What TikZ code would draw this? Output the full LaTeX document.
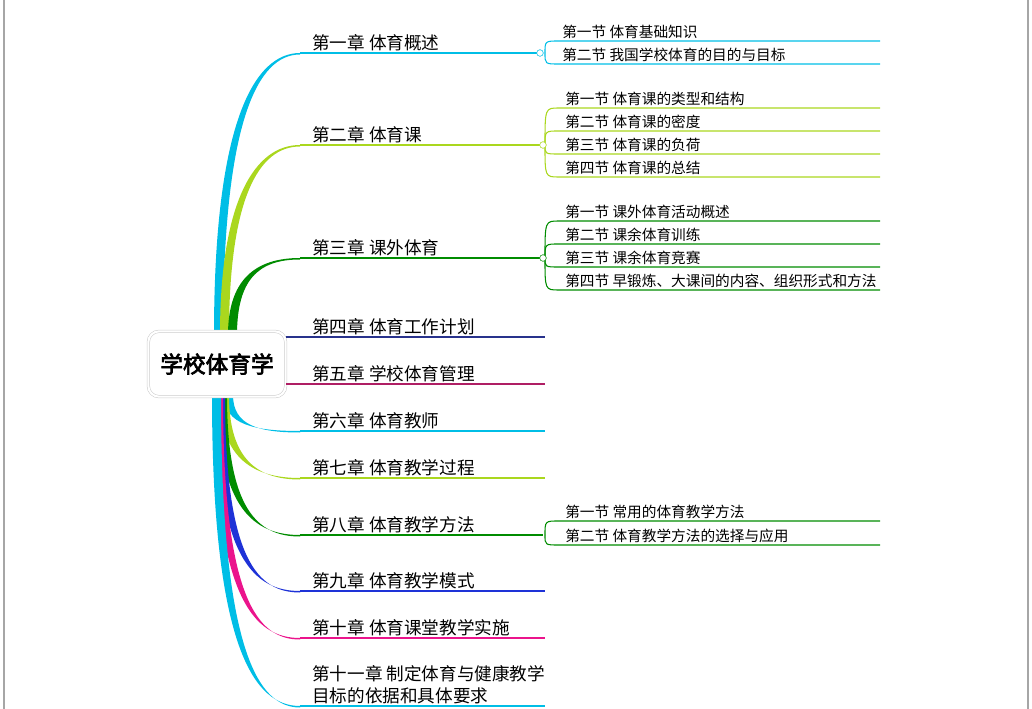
\documentclass[tikz,border=0pt]{standalone}
\usepackage{fontspec}
\setmainfont{Noto Sans CJK SC}
\newfontfamily\rootf{Noto Sans CJK SC}[FakeBold=3]
\begin{document}
\begin{tikzpicture}[x=0.75pt,y=-0.75pt,
  chap/.style={anchor=south west,inner sep=1.5pt,font=\fontsize{13.2}{15}\selectfont},
  sec/.style={anchor=south west,inner sep=1.5pt,font=\fontsize{11}{13}\selectfont},
  jn/.style={circle,draw,fill=white,inner sep=0pt,minimum size=5pt}]
\definecolor{cC}{RGB}{0,190,230}
\definecolor{cY}{RGB}{170,215,30}
\definecolor{cG}{RGB}{0,140,0}
\definecolor{cN}{RGB}{40,50,140}
\definecolor{cM}{RGB}{175,30,100}
\definecolor{cB}{RGB}{30,50,215}
\definecolor{cP}{RGB}{235,20,140}
\useasboundingbox (0,0) rectangle (1032,709);
\draw[gray!70,line width=0.8pt] (4,-2) -- (4,712) (1028,-2) -- (1028,712);
\newcommand\mybr[5]{\fill[#1] (#2-4,#3) .. controls (#2-4,#5) and (255,#4) .. (300,#4)
  -- (300,#4+1.5) .. controls (258,#4+1.5) and (#2+5,#5) .. (#2+5,#3) -- cycle;}
\mybr{cC}{218}{335}{53}{120}
\mybr{cY}{224}{335}{145}{200}
\mybr{cG}{232}{335}{258}{280}
\mybr{cC}{228}{395}{431}{425}
\mybr{cY}{224}{395}{478}{460}
\mybr{cG}{222}{395}{535}{510}
\mybr{cB}{220}{395}{591}{560}
\mybr{cP}{218}{395}{638}{600}
\mybr{cC}{216}{395}{706}{650}
\node[draw=gray!40,double=white,double distance=1.5pt,rounded corners=8pt,fill=white,
  minimum width=103pt,minimum height=49pt,inner sep=0pt] (root) at (217,364) {};
\node at (root) {\rootf\fontsize{17}{20}\selectfont 学校体育学};
\newcommand\mych[5]{\draw[#1,line width=1pt] (300,#2) -- (#3,#2); \node[chap] (#4) at (310,#2) {#5};}
\mych{cC}{53}{540}{c1}{第一章 体育概述}
\mych{cY}{145}{543}{c2}{第二章 体育课}
\mych{cG}{258}{543}{c3}{第三章 课外体育}
\draw[cN,line width=1pt] (root.east|-0,337) -- (545,337); \node[chap] (c4) at (310,337) {第四章 体育工作计划};
\draw[cM,line width=1pt] (root.east|-0,384) -- (545,384); \node[chap] (c5) at (310,384) {第五章 学校体育管理};
\mych{cC}{431}{545}{c6}{第六章 体育教师}
\mych{cY}{478}{545}{c7}{第七章 体育教学过程}
\mych{cG}{535}{543}{c8}{第八章 体育教学方法}
\mych{cB}{591}{545}{c9}{第九章 体育教学模式}
\mych{cP}{638}{545}{c10}{第十章 体育课堂教学实施}
\draw[cC,line width=1pt] (300,706) -- (545,706);
\node[anchor=south west,inner sep=1.5pt,align=left,font=\fontsize{13.2}{16.5}\selectfont] (c11) at (310,706) {第十一章 制定体育与健康教学\\目标的依据和具体要求};
\newcommand\mysc[4]{\draw[#1,line width=0.8pt] (#2+8,#3) .. controls (#2+8,#4) .. (#2+22,#4) -- (880,#4);}
\newcommand\myst[3]{\node[sec] at (#1,#2) {#3};}
\mysc{cC}{537}{53}{41}\mysc{cC}{537}{53}{64}
\myst{560}{41}{第一节 体育基础知识}\myst{560}{64}{第二节 我国学校体育的目的与目标}
\node[jn,draw=cC] at (540,53) {};
\mysc{cY}{537}{145}{108}\mysc{cY}{537}{145}{131}\mysc{cY}{537}{145}{154}\mysc{cY}{537}{145}{177}
\myst{563}{108}{第一节 体育课的类型和结构}\myst{563}{131}{第二节 体育课的密度}
\myst{563}{154}{第三节 体育课的负荷}\myst{563}{177}{第四节 体育课的总结}
\node[jn,draw=cY] at (543,145) {};
\mysc{cG}{537}{258}{221}\mysc{cG}{537}{258}{244}\mysc{cG}{537}{258}{267}\mysc{cG}{537}{258}{290}
\myst{563}{221}{第一节 课外体育活动概述}\myst{563}{244}{第二节 课余体育训练}
\myst{563}{267}{第三节 课余体育竞赛}\myst{563}{290}{第四节 早锻炼、大课间的内容、组织形式和方法}
\node[jn,draw=cG] at (543,258) {};
\mysc{cG}{537}{535}{521}\mysc{cG}{537}{535}{545}
\myst{563}{521}{第一节 常用的体育教学方法}\myst{563}{545}{第二节 体育教学方法的选择与应用}
\end{tikzpicture}
\end{document}
